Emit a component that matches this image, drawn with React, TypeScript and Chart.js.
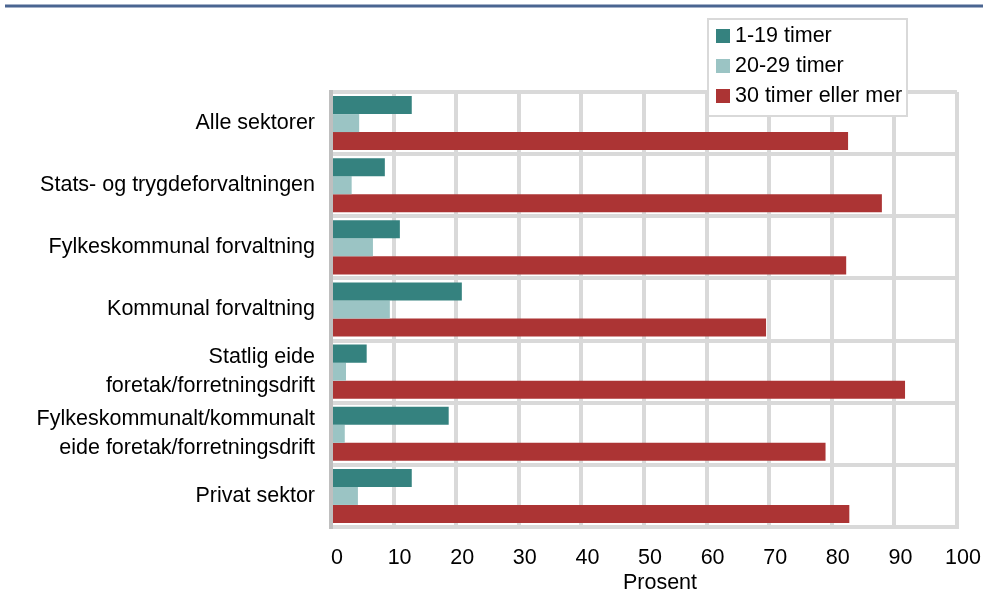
import React, { useEffect, useRef } from "react";
import { Chart, registerables } from "chart.js";

Chart.register(...registerables);

const categories: (string | string[])[] = [
  "Alle sektorer",
  "Stats- og trygdeforvaltningen",
  "Fylkeskommunal forvaltning",
  "Kommunal forvaltning",
  ["Statlig eide", "foretak/forretningsdrift"],
  ["Fylkeskommunalt/kommunalt", "eide foretak/forretningsdrift"],
  "Privat sektor",
];

const seriesNames = ["1-19 timer", "20-29 timer", "30 timer eller mer"];
const timer1_19 = [12.9, 8.6, 11.0, 20.9, 5.7, 18.8, 12.9];
const timer20_29 = [4.5, 3.3, 6.7, 9.4, 2.4, 2.2, 4.3];
const timer30pluss = [82.6, 88.0, 82.3, 69.5, 91.7, 79.0, 82.8];
const seriesColors = ["#35827f", "#9bc4c4", "#ac3434"];

const xMin = 0;
const xMax = 100;
const xStep = 10;
const xTitle = "Prosent";

const FONT = '"Liberation Sans", Arial, sans-serif';
const FS = 21.5;

const decorPlugin = {
  id: "decor",
  afterDraw(chart: any) {
    const ctx = chart.ctx;
    ctx.save();
    // top blue rule
    ctx.strokeStyle = "#4a6591";
    ctx.lineWidth = 3;
    ctx.beginPath();
    ctx.moveTo(5, 6);
    ctx.lineTo(983, 6);
    ctx.stroke();

    // axis title
    ctx.fillStyle = "#000";
    ctx.font = `${FS}px ${FONT}`;
    ctx.textAlign = "center";
    ctx.textBaseline = "middle";
    ctx.fillText(xTitle, 660, 583);

    // legend
    const bx = 708, by = 19, bw = 199, bh = 97;
    ctx.fillStyle = "#fff";
    ctx.fillRect(bx, by, bw, bh);
    ctx.strokeStyle = "#d9d9d9";
    ctx.lineWidth = 2;
    ctx.strokeRect(bx, by, bw, bh);
    const rows = [36, 66, 96];
    chart.data.datasets.forEach((ds: any, i: number) => {
      const cy = rows[i];
      ctx.fillStyle = ds.backgroundColor;
      ctx.fillRect(716, cy - 7, 14, 14);
      ctx.fillStyle = "#000";
      ctx.textAlign = "left";
      ctx.textBaseline = "middle";
      ctx.font = `${FS}px ${FONT}`;
      ctx.fillText(ds.label, 735, cy);
    });
    ctx.restore();
  },
};

export default function App() {
  const ref = useRef<HTMLCanvasElement | null>(null);

  useEffect(() => {
    if (!ref.current) return;
    const chart = new Chart(ref.current, {
      type: "bar",
      data: {
        labels: categories,
        datasets: [
          { label: seriesNames[0], data: timer1_19, backgroundColor: seriesColors[0] },
          { label: seriesNames[1], data: timer20_29, backgroundColor: seriesColors[1] },
          { label: seriesNames[2], data: timer30pluss, backgroundColor: seriesColors[2] },
        ],
      },
      options: {
        indexAxis: "y",
        responsive: false,
        animation: false,
        devicePixelRatio: 1,
        layout: { padding: { left: 0, right: 26, top: 92, bottom: 0 } },
        datasets: {
          bar: { categoryPercentage: 0.87, barPercentage: 1.0 },
        },
        plugins: {
          legend: { display: false },
          tooltip: { enabled: false },
        },
        scales: {
          x: {
            min: xMin,
            max: xMax,
            afterFit: (s: any) => {
              s.height = 71;
              s.paddingLeft = 0;
              s.paddingRight = 0;
            },
            ticks: {
              stepSize: xStep,
              color: "#000",
              font: { family: FONT, size: FS },
              padding: 18,
              labelOffset: 6,
              maxRotation: 0,
            },
            grid: {
              color: (c: any) => (c.tick && c.tick.value === 0 ? "#bfbfbf" : "#d9d9d9"),
              lineWidth: 4,
              drawTicks: false,
            },
            border: { display: true, color: "#d9d9d9", width: 4 },
          },
          y: {
            afterFit: (s: any) => {
              s.width = 331;
              s.paddingTop = 0;
              s.paddingBottom = 0;
            },
            ticks: {
              color: "#000",
              font: { family: FONT, size: FS, lineHeight: 1.36 },
              padding: 16,
              autoSkip: false,
            },
            grid: {
              offset: true,
              color: "#d9d9d9",
              lineWidth: 4,
              drawTicks: false,
            },
            border: { display: true, color: "#bfbfbf", width: 4 },
          },
        },
      },
      plugins: [decorPlugin],
    });
    return () => chart.destroy();
  }, []);

  return (
    <div style={{ position: "fixed", left: 0, top: 0, width: 983, height: 598, background: "#fff" }}>
      <canvas ref={ref} width={983} height={598} style={{ width: 983, height: 598 }} />
    </div>
  );
}
